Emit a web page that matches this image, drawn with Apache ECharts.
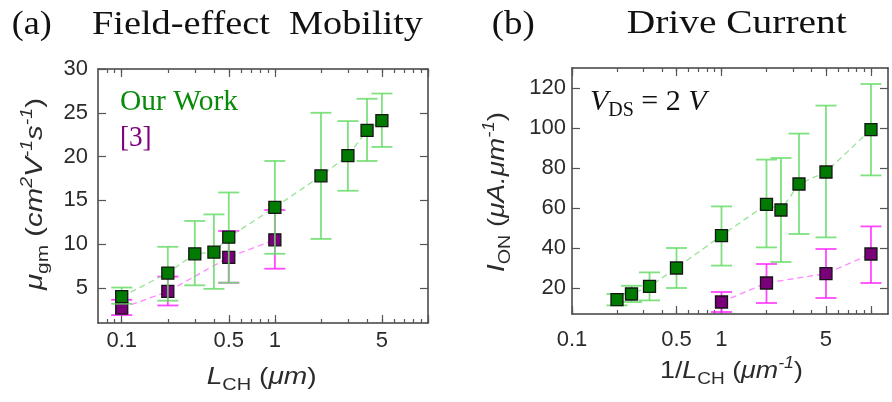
<!DOCTYPE html>
<html>
<head>
<meta charset="utf-8">
<script src="https://cdn.jsdelivr.net/npm/echarts@6/dist/echarts.min.js"></script>
<style>
  html, body { margin: 0; background: #fff; }
  #main { width: 892px; height: 402px; }
</style>
</head>
<body>
<div id="main"></div>
<script>
// (a) field-effect mobility vs channel length L_CH (um)
var mobL = [0.1, 0.2, 0.3, 0.4, 0.5, 1, 2, 3, 4, 5];
var mobOur = [4.0, 6.7, 8.9, 9.1, 10.8, 14.2, 17.8, 20.1, 23.0, 24.1];
var mobOurLo = [3.2, 3.55, 5.3, 4.9, 5.6, 8.9, 10.6, 16.1, 19.5, 21.1];
var mobOurHi = [5.05, 9.7, 12.65, 13.4, 15.9, 19.5, 25.0, 24.05, 26.6, 27.2];
var mobRefL = [0.1, 0.2, 0.5, 1];
var mobRef = [2.7, 4.6, 8.5, 10.5];
var mobRefLo = [1.9, 3.0, 5.6, 7.2];
var mobRefHi = [3.65, 6.3, 11.5, 13.9];

// (b) drive current vs 1/L_CH (um^-1)
var curX = [0.2, 0.25, 0.33, 0.5, 1, 2, 2.5, 3.3, 5, 10];
var curOur = [14.2, 17, 20.8, 30, 46.2, 61.8, 59, 72, 78, 99.2];
var curOurLo = [11.3, 13, 13.8, 20, 31.2, 40.3, 33, 47, 45.3, 76.3];
var curOurHi = [17, 21.1, 27.8, 40, 60.8, 84.2, 85, 97.2, 111.2, 122];
var curRefX = [1, 2, 5, 10];
var curRef = [13, 22.5, 27.2, 37];
var curRefLo = [8, 12.5, 15, 22.5];
var curRefHi = [18, 32, 39.5, 50.8];

// ticks and tick labels
var logMinorA = [0.08, 0.09, 0.1, 0.2, 0.3, 0.4, 0.5, 0.6, 0.7, 0.8, 0.9, 1, 2, 3, 4, 5, 6, 7, 8, 9, 10];
var logMinorB = [0.1, 0.2, 0.3, 0.4, 0.5, 0.6, 0.7, 0.8, 0.9, 1, 2, 3, 4, 5, 6, 7, 8, 9, 10];
var logMajor = [0.1, 0.5, 1, 5, 10];
var logLabels = [0.1, 0.5, 1, 5];
var mobTicks = [5, 10, 15, 20, 25, 30];
var curTicks = [20, 40, 60, 80, 100, 120];

var GREEN = '#007a00', PURPLE = '#7a007a';
var GREEN_BAR = 'rgba(105,220,105,0.85)', MAG_BAR = 'rgba(255,40,255,0.85)';
var GREEN_LINE = '#98e398', MAG_LINE = '#ff88ff';
var AXIS = '#404040', TICK = '#555', LABEL = '#2b2b2b';
var SANS = 'Liberation Sans', SERIF = 'Liberation Serif';

var chart = echarts.init(document.getElementById('main'));
var mctx = document.createElement('canvas').getContext('2d');

function pairs(xs, ys) {
    return xs.map(function (x, i) { return [x, ys[i]]; });
}
function triples(xs, lo, hi) {
    return xs.map(function (x, i) { return [x, lo[i], hi[i]]; });
}

// text made of runs (sub/superscripts), stretched to a given length
function textGroup(parts, o) {
    var x = 0, kids = [];
    parts.forEach(function (p) {
        var st = p[2] ? 'italic' : 'normal';
        mctx.font = st + ' ' + p[1] + 'px "' + o.family + '"';
        var w = mctx.measureText(p[0]).width;
        kids.push({
            type: 'text', x: x, y: (p[3] || 0) - 0.31 * p[1],
            style: {
                text: p[0], fontSize: p[1], fontStyle: st, fontFamily: o.family,
                fill: o.color || LABEL, align: 'left', verticalAlign: 'middle'
            }
        });
        x += w;
    });
    kids.forEach(function (k) { k.x -= x / 2; });
    return {
        type: 'group', x: o.x, y: o.y, rotation: o.rot || 0,
        scaleX: o.len / x, silent: true, children: kids
    };
}

function logX(grid, pos, min, max, ticks, len, labels, margin) {
    return {
        type: 'log', logBase: 10, gridIndex: grid, position: pos, min: min, max: max,
        axisLine: { show: len > 5, onZero: false, lineStyle: { color: AXIS, width: 1.5 } },
        axisTick: { show: true, inside: true, length: len, customValues: ticks, lineStyle: { color: TICK, width: 1.2 } },
        axisLabel: labels ? {
            show: true, customValues: labels, margin: margin, fontSize: 22,
            fontFamily: SANS, color: LABEL,
            formatter: function (v) { return String(+(+v).toPrecision(3)); }
        } : { show: false },
        splitLine: { show: false },
        minorTick: { show: false }
    };
}

function valY(grid, pos, min, max, ticks, labels, margin) {
    return {
        type: 'value', gridIndex: grid, position: pos, min: min, max: max,
        axisLine: { show: true, onZero: false, lineStyle: { color: AXIS, width: 1.5 } },
        axisTick: { show: true, inside: true, length: 8, customValues: ticks, lineStyle: { color: TICK, width: 1.2 } },
        axisLabel: labels ? {
            show: true, customValues: ticks, margin: margin, fontSize: 22,
            fontFamily: SANS, color: LABEL
        } : { show: false },
        splitLine: { show: false }
    };
}

function errBar(color) {
    return function (params, api) {
        var x = api.value(0);
        var lo = api.coord([x, api.value(1)]);
        var hi = api.coord([x, api.value(2)]);
        var cap = 10.5;
        var style = { stroke: color, lineWidth: 1.8 };
        return {
            type: 'group',
            children: [
                { type: 'line', shape: { x1: lo[0], y1: lo[1], x2: hi[0], y2: hi[1] }, style: style },
                { type: 'line', shape: { x1: lo[0] - cap, y1: lo[1], x2: lo[0] + cap, y2: lo[1] }, style: style },
                { type: 'line', shape: { x1: hi[0] - cap, y1: hi[1], x2: hi[0] + cap, y2: hi[1] }, style: style }
            ]
        };
    };
}

function panelSeries(xi, yi, xs, ys, lo, hi, color, barColor, lineColor, z) {
    return [
        {
            type: 'line', xAxisIndex: xi, yAxisIndex: yi, data: pairs(xs, ys),
            symbol: 'none', silent: true, z: z,
            lineStyle: { color: lineColor, width: 1.3, type: [6, 4] }
        },
        {
            type: 'custom', xAxisIndex: xi, yAxisIndex: yi, data: triples(xs, lo, hi),
            encode: { x: 0, y: [1, 2] }, renderItem: errBar(barColor), silent: true, z: z + 1
        },
        {
            type: 'scatter', xAxisIndex: xi, yAxisIndex: yi, data: pairs(xs, ys),
            symbol: 'rect', symbolSize: 12, silent: true, z: z + 2,
            itemStyle: { color: color, borderColor: '#151515', borderWidth: 1.3, opacity: 1 }
        }
    ];
}

var option = {
    animation: false,
    backgroundColor: '#fff',
    grid: [
        { left: 98, top: 69, width: 330, height: 254, outerBoundsMode: 'none' },
        { left: 572, top: 68, width: 316, height: 246, outerBoundsMode: 'none' }
    ],
    xAxis: [
        logX(0, 'bottom', 0.07, 10, logMajor, 8, logLabels, 7),
        logX(0, 'bottom', 0.07, 10, logMinorA, 4),
        logX(0, 'top', 0.07, 10, logMajor, 8),
        logX(0, 'top', 0.07, 10, logMinorA, 4),
        logX(1, 'bottom', 0.1, 13, logMajor, 8, logLabels, 15),
        logX(1, 'bottom', 0.1, 13, logMinorB, 4),
        logX(1, 'top', 0.1, 13, logMajor, 8),
        logX(1, 'top', 0.1, 13, logMinorB, 4)
    ],
    yAxis: [
        valY(0, 'left', 1, 30, mobTicks, true, 10),
        valY(0, 'right', 1, 30, mobTicks, false),
        valY(1, 'left', 7, 130, curTicks, true, 6),
        valY(1, 'right', 7, 130, curTicks, false)
    ],
    series: [].concat(
        panelSeries(0, 0, mobRefL, mobRef, mobRefLo, mobRefHi, PURPLE, MAG_BAR, MAG_LINE, 2),
        panelSeries(0, 0, mobL, mobOur, mobOurLo, mobOurHi, GREEN, GREEN_BAR, GREEN_LINE, 5),
        panelSeries(4, 2, curRefX, curRef, curRefLo, curRefHi, PURPLE, MAG_BAR, MAG_LINE, 2),
        panelSeries(4, 2, curX, curOur, curOurLo, curOurHi, GREEN, GREEN_BAR, GREEN_LINE, 5)
    ),
    graphic: [
        textGroup([['(a)', 34]], { family: SERIF, x: 31.7, y: 36, len: 40, color: '#111' }),
        textGroup([['Field-effect  Mobility', 33]], { family: SERIF, x: 257.5, y: 36, len: 331, color: '#111' }),
        textGroup([['(b)', 34]], { family: SERIF, x: 513.3, y: 36, len: 43, color: '#111' }),
        textGroup([['Drive Current', 33]], { family: SERIF, x: 736.7, y: 35, len: 220, color: '#111' }),
        textGroup([['Our Work', 29]], { family: SERIF, x: 179, y: 111, len: 118, color: '#0a8a0a' }),
        textGroup([['[3]', 29]], { family: SERIF, x: 135.8, y: 147, len: 31.7, color: '#800080' }),
        textGroup([['V', 30, true], ['DS', 20, false, 5], [' = 2 ', 30], ['V', 30, true]],
            { family: SERIF, x: 648.3, y: 111.7, len: 116.7, color: '#111' }),
        textGroup([['L', 24, true], ['CH', 17, false, 6], [' (', 24], ['\u03bcm', 24, true], [')', 24]],
            { family: SANS, x: 261.7, y: 385, len: 110 }),
        textGroup([['1/', 24], ['L', 24, true], ['CH', 17, false, 6], [' (', 24], ['\u03bcm', 24, true],
            ['-1', 16, true, -10], [')', 24]],
            { family: SANS, x: 731.5, y: 379, len: 143 }),
        textGroup([['\u03bc', 24, true], ['gm', 17, false, 6], [' (', 24], ['cm', 24, true], ['2', 16, true, -10],
            ['V', 24, true], ['-1', 16, true, -10], ['s', 24, true], ['-1', 16, true, -10], [')', 24]],
            { family: SANS, x: 43, y: 194, len: 192, rot: Math.PI / 2 }),
        textGroup([['I', 24, true], ['ON', 17, false, 6], [' (', 24], ['\u03bcA.\u03bcm', 24, true],
            ['-1', 16, true, -10], [')', 24]],
            { family: SANS, x: 505, y: 192, len: 160, rot: Math.PI / 2 })
    ]
};

chart.setOption(option);
</script>
</body>
</html>
